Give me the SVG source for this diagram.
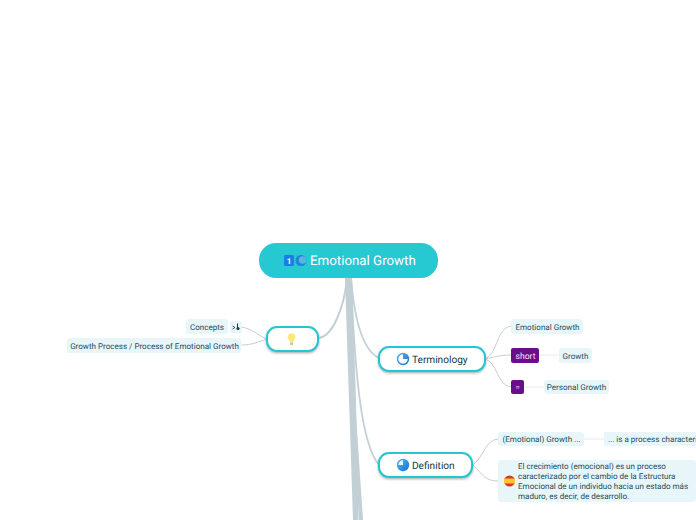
<svg xmlns="http://www.w3.org/2000/svg" width="696" height="520" viewBox="0 0 696 520">
<style>
text{font-family:Roboto,"Liberation Sans",sans-serif;fill:#1f4a5a;text-rendering:geometricPrecision}
.c{fill:none;stroke:#c2d0d5;stroke-linecap:round}
.t{fill:#e8f6f9}
.n{fill:#fff;stroke:#28c6d0;stroke-width:2}
.p{fill:#6a0f8a}
.s{font-size:8.05px}
.m{font-size:10.1px;fill:#12384a}
.w{font-size:8.6px;fill:#f3e6f7}
</style>
<defs>
<filter id="sh" x="-10%" y="-20%" width="120%" height="150%"><feDropShadow dx="0" dy="1.2" stdDeviation="0.8" flood-color="#5a6a70" flood-opacity=".55"/></filter>
<linearGradient id="b" x1="0" y1="0" x2="1" y2="1"><stop offset="0" stop-color="#5cb8f5"/><stop offset="1" stop-color="#1270d0"/></linearGradient>
</defs>
<g id="connectors">
<path d="M345 278H352L356 400L358.500 520H353L349 400Z" fill="#c2d0d5"/>
<path d="M353 400L361 520" class="c" stroke-width="4" style="stroke-linecap:butt"/>
<path d="M347 278C344 310 332 336 319 338" class="c" stroke-width="2"/>
<path d="M351 278C354 315 362 350 379 358" class="c" stroke-width="1.800"/>
<path d="M351 278C355 380 362 445 379 465" class="c" stroke-width="1.800"/>
<path d="M267 339C258 336 252 328 241 327" class="c"/>
<path d="M267 339C258 342 252 345 242 345" class="c"/>
<path d="M485 359C498 354 496 328 511 326" class="c"/>
<path d="M485 359C495 357 500 355 511 355" class="c"/>
<path d="M485 359C498 362 496 385 511 387" class="c"/>
<path d="M539 355H562M524 387H544M584 439H604" class="c" style="stroke:#e2ecef"/>
<path d="M473 465C485 455 485 440 498 439M473 465C483 475 485 481 498 481" class="c"/>
</g>
<g id="root">
<rect x="259" y="243" width="179" height="35" rx="17" fill="#26c9d2"/>
<rect x="284" y="255" width="10" height="11" rx="1.500" fill="#1a7fe0"/>
<text x="289" y="264" font-size="8" font-weight="700" text-anchor="middle" style="fill:#fff">1</text>
<circle cx="301" cy="260.500" r="5.500" fill="#1a86d8"/>
<circle cx="302.500" cy="260" r="3.800" fill="#58b4e4"/>
<text x="310" y="265" font-size="13.300" style="fill:#fff">Emotional Growth</text>
</g>
<g id="idea">
<rect x="267" y="327" width="51" height="24" rx="10" class="n" filter="url(#sh)"/>
<path d="M291.500 333a4 4 0 0 1 2.500 7l-.7 2.500h-3.600l-.7-2.500a4 4 0 0 1 2.500-7z" fill="#fbe77a"/>
<rect x="290" y="342.500" width="3" height="2.500" fill="#c8c8b0"/>
</g>
<g id="concepts">
<rect x="186" y="319" width="42" height="15" rx="3" class="t"/>
<text x="207" y="329.500" class="s" text-anchor="middle">Concepts</text>
<rect x="230" y="321" width="12" height="12" rx="2" class="t"/>
<path d="M232.500 326l2.500 1.500-2.500 1.500" fill="none" stroke="#1f3a4a" stroke-width=".8"/>
<path d="M237.500 323.500v6" stroke="#1f3a4a" stroke-width="1"/>
<circle cx="238" cy="328.500" r="1.600" fill="#1f3a4a"/>
</g>
<g id="process">
<rect x="67" y="338" width="174" height="15" rx="3" class="t"/>
<text x="154.500" y="348.500" class="s" text-anchor="middle">Growth Process / Process of Emotional Growth</text>
</g>
<g id="terminology">
<rect x="379" y="347" width="106" height="24" rx="10" class="n" filter="url(#sh)"/>
<circle cx="403" cy="359" r="6.200" fill="url(#b)"/>
<path d="M403 359v-4.700a4.700 4.700 0 1 0 4.700 4.700z" fill="#fff"/>
<text x="412" y="362.600" class="m">Terminology</text>
</g>
<g id="emotional-growth">
<rect x="511" y="319" width="72" height="15" rx="3" class="t"/>
<text x="547.500" y="329.500" class="s" text-anchor="middle">Emotional Growth</text>
</g>
<g id="short">
<rect x="511" y="348" width="28" height="15" rx="2" class="p"/>
<text x="525.500" y="358.500" class="w" text-anchor="middle">short</text>
</g>
<g id="growth">
<rect x="559" y="348" width="33" height="15" rx="3" class="t"/>
<text x="575.500" y="358.500" class="s" text-anchor="middle">Growth</text>
</g>
<g id="equals">
<rect x="511" y="380" width="13" height="14" rx="2" class="p"/>
<text x="517.500" y="390" class="w" text-anchor="middle">=</text>
</g>
<g id="personal-growth">
<rect x="544" y="380" width="65" height="14" rx="3" class="t"/>
<text x="576.500" y="390" class="s" text-anchor="middle">Personal Growth</text>
</g>
<g id="definition">
<rect x="379" y="453" width="93" height="24" rx="10" class="n" filter="url(#sh)"/>
<circle cx="403" cy="465" r="6.200" fill="url(#b)"/>
<path d="M403 465v-4.700a4.700 4.700 0 0 0-4.700 4.700z" fill="#e4f3fc"/>
<text x="412" y="468.600" class="m">Definition</text>
</g>
<g id="growth-dots">
<rect x="498" y="432" width="86" height="14" rx="3" class="t"/>
<text x="502.500" y="442" class="s">(Emotional) Growth ...</text>
</g>
<g id="process-char">
<rect x="604" y="432" width="92" height="14" class="t"/>
<text x="608" y="442" class="s">... is a process characteri</text>
</g>
<g id="spanish">
<rect x="498" y="460" width="198" height="42" rx="3" class="t"/>
<circle cx="509.500" cy="481" r="5.500" fill="#d8362a"/>
<rect x="504" y="478.500" width="11" height="5" fill="#f8c630"/>
<text class="s"><tspan x="518" y="469">El crecimiento (emocional) es un proceso</tspan><tspan x="518" y="479">caracterizado por el cambio de la Estructura</tspan><tspan x="518" y="488.500">Emocional de un individuo hacia un estado más</tspan><tspan x="518" y="498.500">maduro, es decir, de desarrollo.</tspan></text>
</g>
</svg>
